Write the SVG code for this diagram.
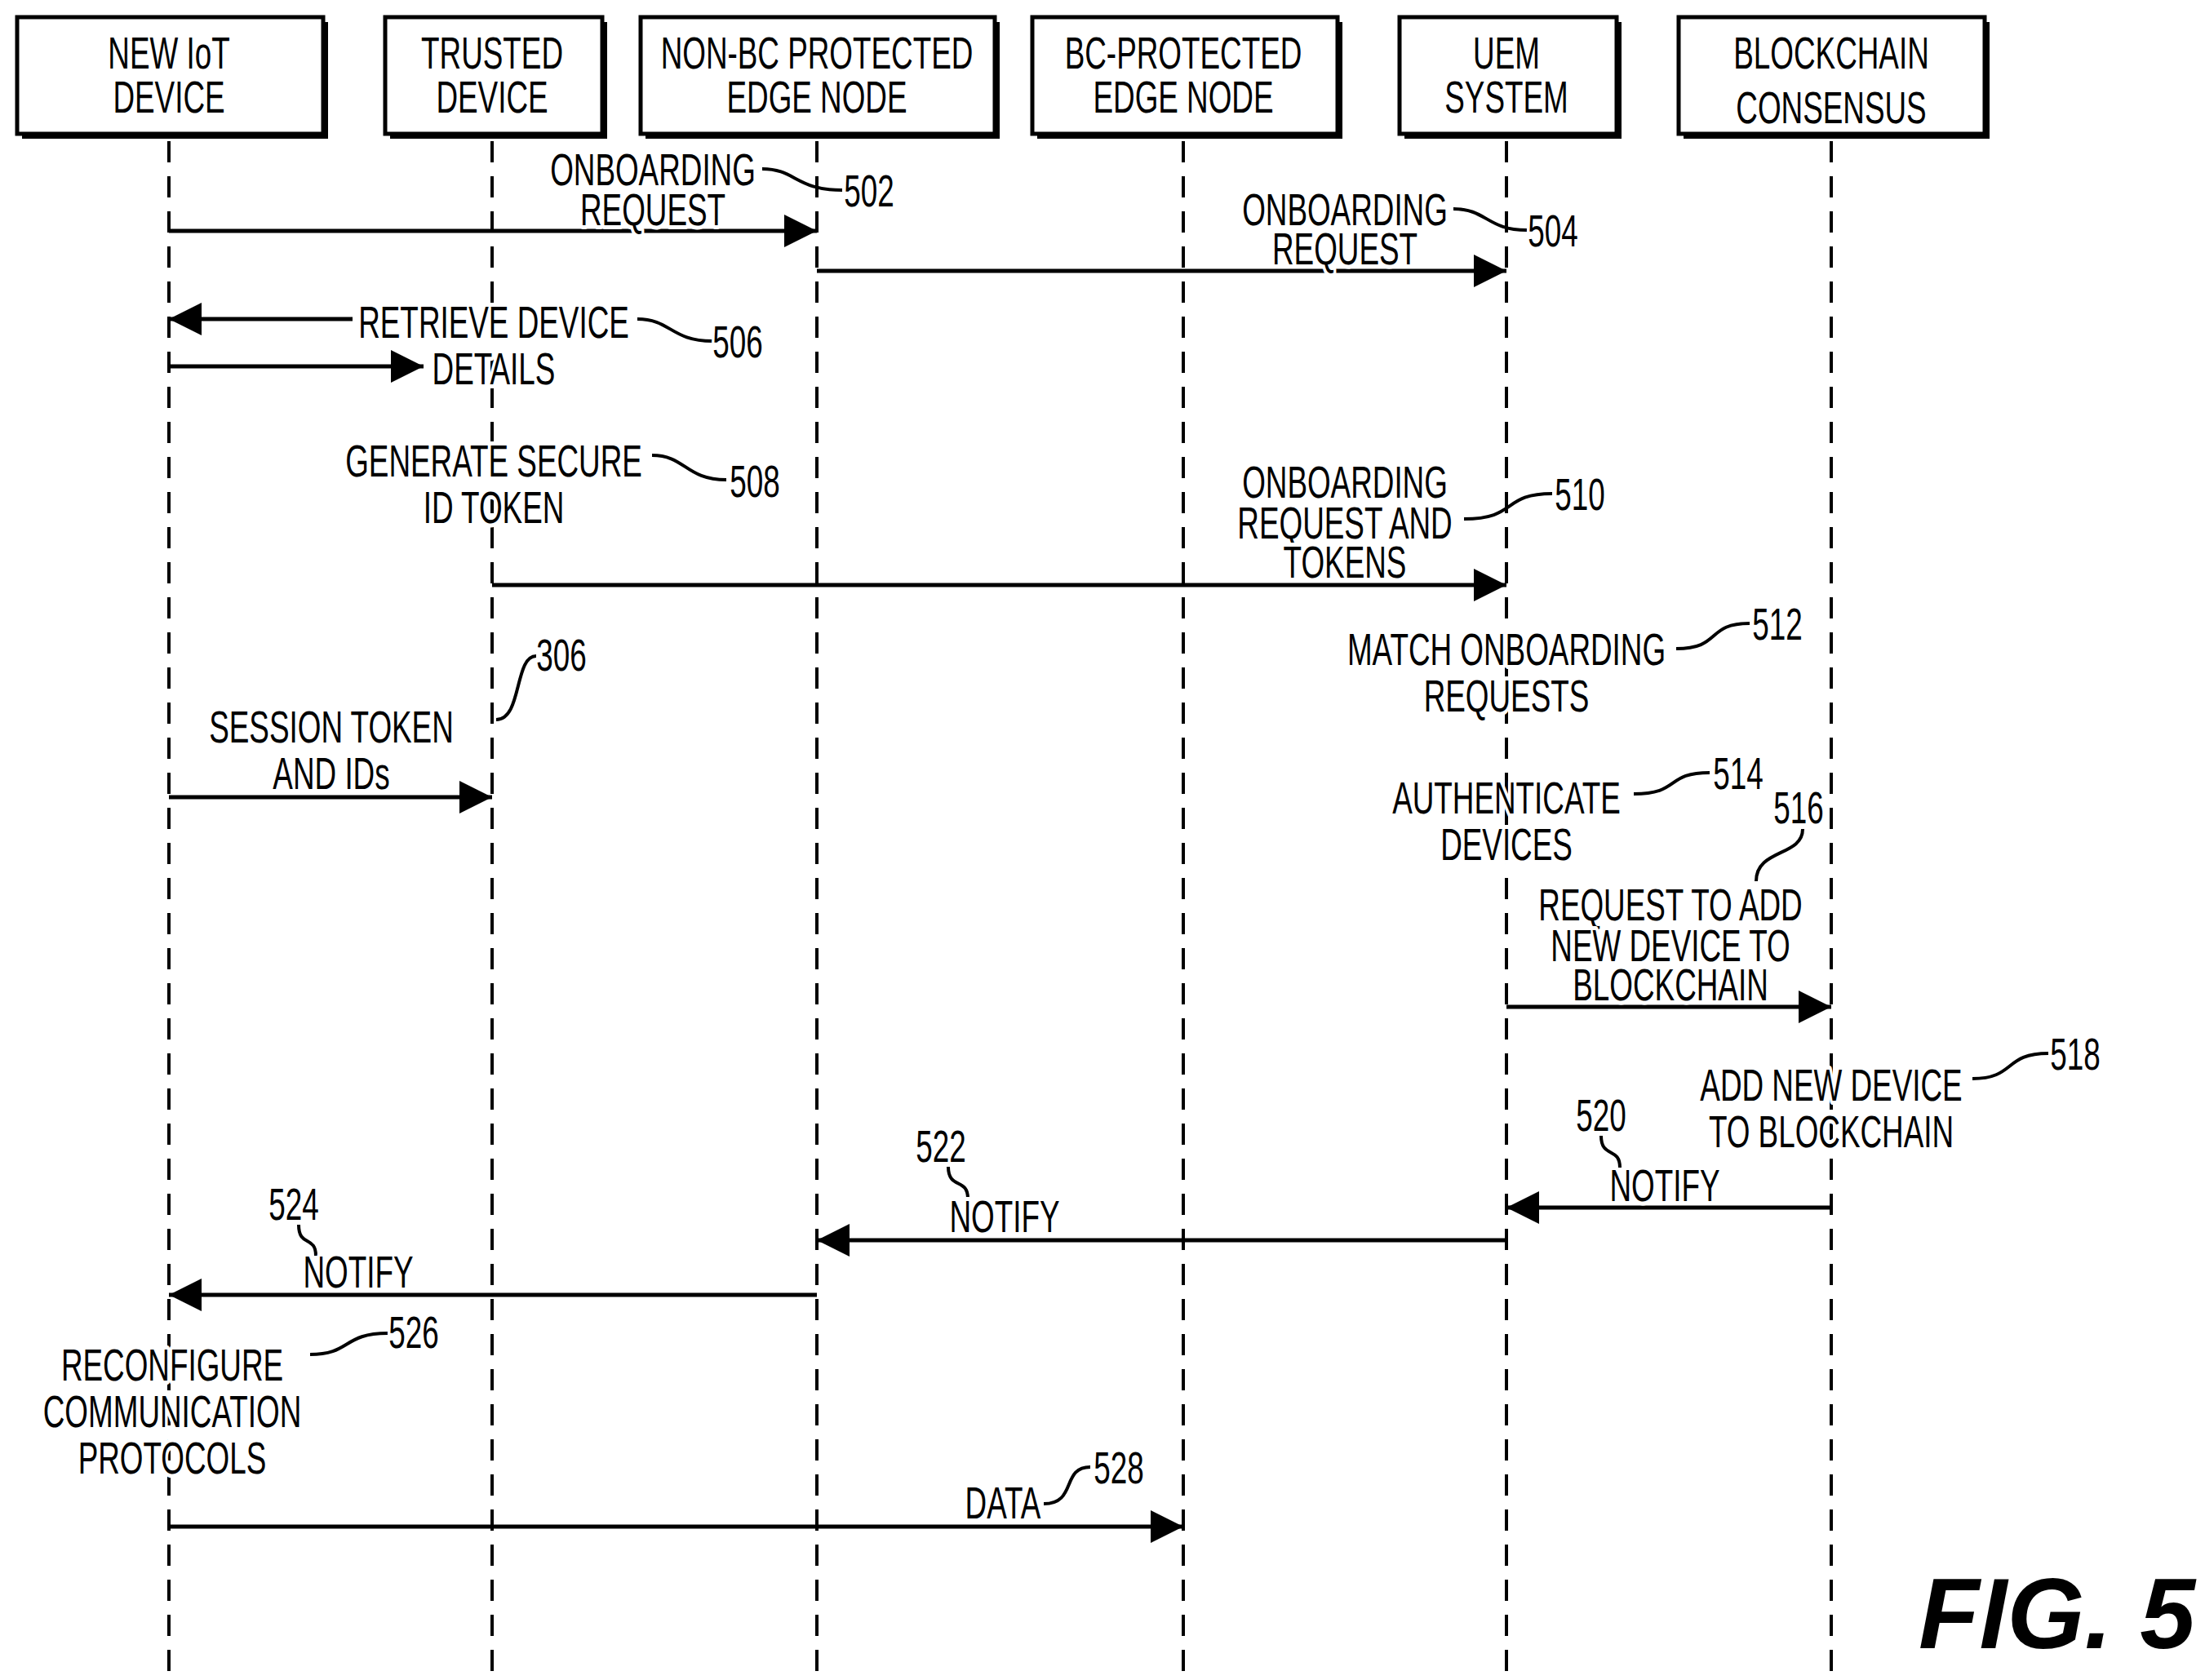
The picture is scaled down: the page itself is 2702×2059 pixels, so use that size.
<svg xmlns="http://www.w3.org/2000/svg" width="2702" height="2059" viewBox="0 0 2702 2059">
<style>
text{font-family:"Liberation Sans",Arial,sans-serif;font-size:55px;fill:#000;text-anchor:middle}
#labels text{stroke:#fff;stroke-width:10px;paint-order:stroke;stroke-linejoin:round}
.box{fill:#fff;stroke:#000;stroke-width:5}
.sh{fill:#000}
.life{stroke:#000;stroke-width:4;stroke-dasharray:26 17;fill:none}
.msg{stroke:#000;stroke-width:5;fill:none;marker-end:url(#ah)}
.lead{stroke:#000;stroke-width:4;fill:none}
.fig{font-weight:bold;font-style:italic;font-size:122px;text-anchor:end}
</style>
<defs>
<marker id="ah" markerWidth="8" markerHeight="8" refX="8" refY="4" orient="auto" markerUnits="strokeWidth"><path d="M0,0 L8,4 L0,8 z" fill="#000"/></marker>
</defs>
<rect width="2702" height="2059" fill="#fff"/>
<g id="lifelines">
<path class="life" d="M207,173V2048M603,173V2048M1001,173V2048M1450,173V2048M1846,173V2048M2244,173V2048"/>
</g>
<g id="n1"><rect class="sh" x="27" y="27" width="375" height="143"/><rect class="box" x="21" y="21" width="375" height="143"/><text transform="translate(207,84) scale(0.67,1)">NEW IoT</text><text transform="translate(207,138) scale(0.67,1)">DEVICE</text></g>
<g id="n2"><rect class="sh" x="478" y="27" width="266" height="143"/><rect class="box" x="472" y="21" width="266" height="143"/><text transform="translate(603,84) scale(0.67,1)">TRUSTED</text><text transform="translate(603,138) scale(0.67,1)">DEVICE</text></g>
<g id="n3"><rect class="sh" x="791" y="27" width="434" height="143"/><rect class="box" x="785" y="21" width="434" height="143"/><text transform="translate(1001,84) scale(0.67,1)">NON-BC PROTECTED</text><text transform="translate(1001,138) scale(0.67,1)">EDGE NODE</text></g>
<g id="n4"><rect class="sh" x="1271" y="27" width="374" height="143"/><rect class="box" x="1265" y="21" width="374" height="143"/><text transform="translate(1450,84) scale(0.67,1)">BC-PROTECTED</text><text transform="translate(1450,138) scale(0.67,1)">EDGE NODE</text></g>
<g id="n5"><rect class="sh" x="1721" y="27" width="266" height="143"/><rect class="box" x="1715" y="21" width="266" height="143"/><text transform="translate(1846,84) scale(0.67,1)">UEM</text><text transform="translate(1846,138) scale(0.67,1)">SYSTEM</text></g>
<g id="n6"><rect class="sh" x="2063" y="27" width="375" height="143"/><rect class="box" x="2057" y="21" width="375" height="143"/><text transform="translate(2244,84) scale(0.67,1)">BLOCKCHAIN</text><text transform="translate(2244,151) scale(0.67,1)">CONSENSUS</text></g>
<g id="connectors">
<path class="msg" d="M207,283H1001"/>
<path class="msg" d="M1001,332H1846"/>
<path class="msg" d="M432,391H207"/>
<path class="msg" d="M207,449H519"/>
<path class="msg" d="M603,717H1846"/>
<path class="msg" d="M207,977H603"/>
<path class="msg" d="M1846,1234H2244"/>
<path class="msg" d="M2244,1480H1846"/>
<path class="msg" d="M1846,1520H1001"/>
<path class="msg" d="M1001,1587H207"/>
<path class="msg" d="M207,1871H1450"/>
</g>
<g id="leaders">
<path class="lead" d="M934,207C975,207 975,233 1032,233"/>
<path class="lead" d="M1781,256C1822,256 1822,282 1871,282"/>
<path class="lead" d="M781,391C822,391 822,418 873,418"/>
<path class="lead" d="M799,558C840,558 840,588 890,588"/>
<path class="lead" d="M1794,636C1860,636 1840,605 1902,605"/>
<path class="lead" d="M608,882C640,882 630,804 657,804"/>
<path class="lead" d="M2054,795C2110,795 2090,764 2144,764"/>
<path class="lead" d="M2002,973C2060,973 2040,947 2095,947"/>
<path class="lead" d="M2209,1016C2209,1050 2152,1040 2152,1080"/>
<path class="lead" d="M2417,1322C2470,1322 2455,1291 2510,1291"/>
<path class="lead" d="M1962,1392C1962,1420 1985,1405 1985,1431"/>
<path class="lead" d="M1162,1430C1162,1458 1186,1443 1186,1469"/>
<path class="lead" d="M366,1501C366,1529 387,1514 387,1539"/>
<path class="lead" d="M380,1660C430,1660 420,1634 475,1634"/>
<path class="lead" d="M1279,1843C1320,1843 1300,1798 1336,1798"/>
</g>
<g id="labels">
<text transform="translate(800,227) scale(0.67,1)">ONBOARDING</text>
<text transform="translate(800,276) scale(0.67,1)">REQUEST</text>
<text transform="translate(1065,253) scale(0.67,1)">502</text>
<text transform="translate(1648,276) scale(0.67,1)">ONBOARDING</text>
<text transform="translate(1648,324) scale(0.67,1)">REQUEST</text>
<text transform="translate(1903,302) scale(0.67,1)">504</text>
<text transform="translate(605,414) scale(0.67,1)">RETRIEVE DEVICE</text>
<text transform="translate(605,471) scale(0.67,1)">DETAILS</text>
<text transform="translate(904,438) scale(0.67,1)">506</text>
<text transform="translate(605,584) scale(0.67,1)">GENERATE SECURE</text>
<text transform="translate(605,641) scale(0.67,1)">ID TOKEN</text>
<text transform="translate(925,609) scale(0.67,1)">508</text>
<text transform="translate(1648,610) scale(0.67,1)">ONBOARDING</text>
<text transform="translate(1648,660) scale(0.67,1)">REQUEST AND</text>
<text transform="translate(1648,708) scale(0.67,1)">TOKENS</text>
<text transform="translate(1936,625) scale(0.67,1)">510</text>
<text transform="translate(688,822) scale(0.67,1)">306</text>
<text transform="translate(406,910) scale(0.67,1)">SESSION TOKEN</text>
<text transform="translate(406,967) scale(0.67,1)">AND IDs</text>
<text transform="translate(1846,815) scale(0.67,1)">MATCH ONBOARDING</text>
<text transform="translate(1846,872) scale(0.67,1)">REQUESTS</text>
<text transform="translate(2178,784) scale(0.67,1)">512</text>
<text transform="translate(1846,997) scale(0.67,1)">AUTHENTICATE</text>
<text transform="translate(1846,1054) scale(0.67,1)">DEVICES</text>
<text transform="translate(2130,967) scale(0.67,1)">514</text>
<text transform="translate(2204,1009) scale(0.67,1)">516</text>
<text transform="translate(2047,1128) scale(0.67,1)">REQUEST TO ADD</text>
<text transform="translate(2047,1178) scale(0.67,1)">NEW DEVICE TO</text>
<text transform="translate(2047,1226) scale(0.67,1)">BLOCKCHAIN</text>
<text transform="translate(2244,1349) scale(0.67,1)">ADD NEW DEVICE</text>
<text transform="translate(2244,1406) scale(0.67,1)">TO BLOCKCHAIN</text>
<text transform="translate(2543,1311) scale(0.67,1)">518</text>
<text transform="translate(1962,1386) scale(0.67,1)">520</text>
<text transform="translate(2040,1472) scale(0.67,1)">NOTIFY</text>
<text transform="translate(1153,1424) scale(0.67,1)">522</text>
<text transform="translate(1231,1510) scale(0.67,1)">NOTIFY</text>
<text transform="translate(360,1495) scale(0.67,1)">524</text>
<text transform="translate(439,1578) scale(0.67,1)">NOTIFY</text>
<text transform="translate(211,1692) scale(0.67,1)">RECONFIGURE</text>
<text transform="translate(211,1749) scale(0.67,1)">COMMUNICATION</text>
<text transform="translate(211,1806) scale(0.67,1)">PROTOCOLS</text>
<text transform="translate(507,1652) scale(0.67,1)">526</text>
<text transform="translate(1229,1861) scale(0.67,1)">DATA</text>
<text transform="translate(1371,1818) scale(0.67,1)">528</text>
<text class="fig" x="2690" y="2020">FIG. 5</text>
</g>
</svg>
